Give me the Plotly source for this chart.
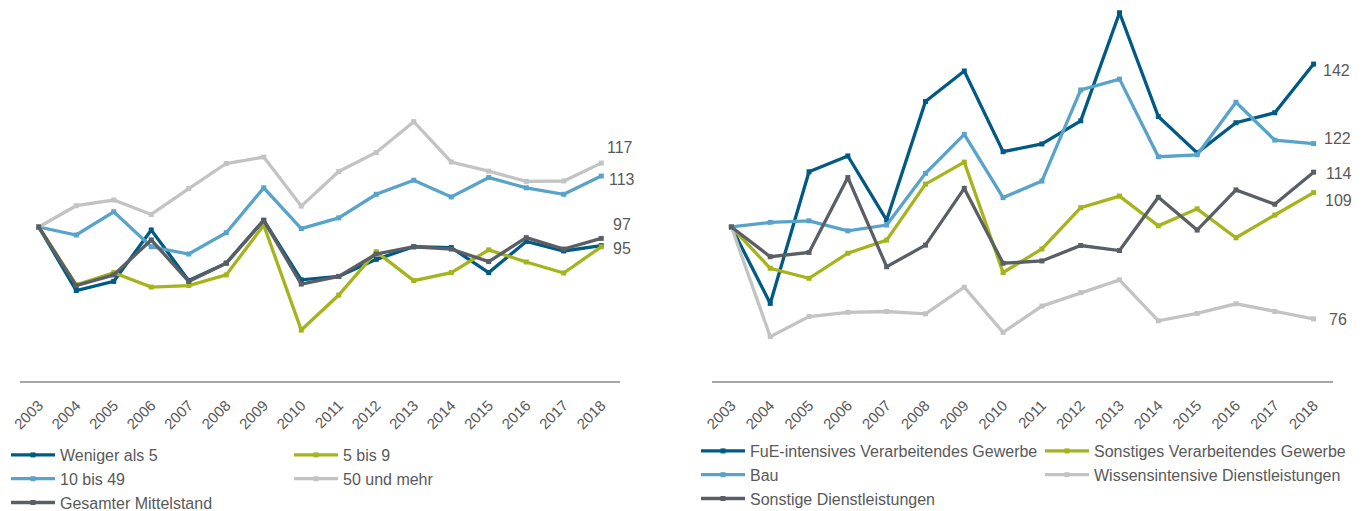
import plotly.graph_objects as go
from plotly.subplots import make_subplots

years = ["2003", "2004", "2005", "2006", "2007", "2008", "2009", "2010",
         "2011", "2012", "2013", "2014", "2015", "2016", "2017", "2018"]

# Linkes Diagramm: nach Beschäftigtengrößenklassen (Index 2003 = 100)
weniger_als_5 = [100, 83.3, 85.7, 99.2, 85.9, 90.5, 101.8, 86.1,
                 87.0, 91.5, 94.8, 94.6, 88.0, 96.2, 93.7, 95.1]
fuenf_bis_9 = [100, 84.8, 88.0, 84.2, 84.6, 87.4, 100.5, 72.9,
               82.1, 93.5, 85.9, 88.0, 94.0, 90.8, 87.9, 94.8]
zehn_bis_49 = [100, 97.9, 104.0, 94.8, 92.9, 98.5, 110.3, 99.6,
               102.4, 108.6, 112.3, 107.9, 113.0, 110.3, 108.6, 113.4]
fuenfzig_und_mehr = [100, 105.6, 107.1, 103.3, 110.1, 116.7, 118.4, 105.5,
                     114.6, 119.6, 127.7, 117.1, 114.7, 112.0, 112.1, 116.8]
gesamter_mittelstand = [100, 84.6, 87.4, 96.6, 85.7, 90.5, 101.7, 85.0,
                        87.0, 92.9, 94.8, 94.2, 90.9, 97.2, 94.2, 97.0]

# Rechtes Diagramm: nach Wirtschaftszweigen
fue_intensiv = [100, 80.2, 114.3, 118.4, 101.8, 132.5, 140.4, 119.5,
                121.5, 127.5, 155.5, 128.6, 119.2, 127.0, 129.6, 142.2]
sonstiges_vg = [100, 89.3, 86.7, 93.2, 96.6, 111.1, 116.8, 88.2,
                94.3, 105.0, 108.0, 100.3, 104.7, 97.2, 103.1, 108.9]
bau = [100, 101.2, 101.6, 99.0, 100.5, 113.9, 124.0, 107.6,
       111.9, 135.5, 138.3, 118.2, 118.7, 132.3, 122.5, 121.6]
wissensintensive_dl = [100, 71.6, 76.8, 77.9, 78.1, 77.5, 84.4, 72.7,
                       79.5, 83.0, 86.3, 75.7, 77.6, 80.1, 78.1, 76.2]
sonstige_dl = [100, 92.3, 93.4, 112.8, 89.7, 95.3, 110.0, 90.6,
               91.2, 95.2, 93.9, 107.7, 99.2, 109.6, 105.9, 114.2]

DARK_BLUE = "#005A84"
GREEN = "#A4B41C"
LIGHT_BLUE = "#58A3C9"
LIGHT_GRAY = "#C2C3C5"
DARK_GRAY = "#5A5F65"
TEXT = "#595959"
FONT = "Liberation Sans, Arial, sans-serif"

W, H = 1371, 511
PLOT_BOTTOM = 381  # Pixel der x-Achse

left_series = [
    ("Weniger als 5", weniger_als_5, DARK_BLUE, "legend"),
    ("5 bis 9", fuenf_bis_9, GREEN, "legend2"),
    ("10 bis 49", zehn_bis_49, LIGHT_BLUE, "legend"),
    ("50 und mehr", fuenfzig_und_mehr, LIGHT_GRAY, "legend2"),
    ("Gesamter Mittelstand", gesamter_mittelstand, DARK_GRAY, "legend"),
]
right_series = [
    ("FuE-intensives Verarbeitendes Gewerbe", fue_intensiv, DARK_BLUE, "legend3"),
    ("Sonstiges Verarbeitendes Gewerbe", sonstiges_vg, GREEN, "legend4"),
    ("Bau", bau, LIGHT_BLUE, "legend3"),
    ("Wissensintensive Dienstleistungen", wissensintensive_dl, LIGHT_GRAY, "legend4"),
    ("Sonstige Dienstleistungen", sonstige_dl, DARK_GRAY, "legend3"),
]

fig = make_subplots(rows=1, cols=2)

for col, series in ((1, left_series), (2, right_series)):
    for name, values, color, legend in series:
        fig.add_trace(
            go.Scatter(
                x=years,
                y=values,
                name=name,
                mode="lines+markers",
                line=dict(color=color, width=3.3),
                marker=dict(symbol="square", size=5, color=color),
                legend=legend,
            ),
            row=1, col=col,
        )

# Endwerte rechts neben den Linien
end_labels = [
    (1, fuenfzig_und_mehr, 19, 16),
    (1, zehn_bis_49, 21, -3),
    (1, gesamter_mittelstand, 21, 14),
    (1, weniger_als_5, 21, -3),
    (2, fue_intensiv, 23, -6),
    (2, bau, 24, 5),
    (2, sonstige_dl, 25, -1),
    (2, sonstiges_vg, 25, -8),
    (2, wissensintensive_dl, 24, -1),
]
for col, values, dx, dy in end_labels:
    fig.add_annotation(
        x=len(years) - 1, y=values[-1],
        xref="x" if col == 1 else "x2", yref="y" if col == 1 else "y2",
        text=f"{values[-1]:.0f}", showarrow=False,
        xshift=dx, yshift=dy,
        font=dict(size=16, color=TEXT, family=FONT),
    )

axis_style = dict(
    type="category",
    showgrid=False, zeroline=False, showline=True, linecolor="#A6A6A6", linewidth=1.5,
    ticks="", tickangle=-45, tickfont=dict(size=15, color=TEXT, family=FONT),
    ticklabelstandoff=8,
    range=[-0.5, 15.5],
)
fig.update_xaxes(**axis_style)
fig.update_xaxes(domain=[20 / W, 620 / W], row=1, col=1)
fig.update_xaxes(domain=[712 / W, 1333 / W], row=1, col=2)
fig.update_yaxes(showgrid=False, zeroline=False, showline=False, showticklabels=False, ticks="")
fig.update_yaxes(range=[59.5, 159.7], row=1, col=1)
fig.update_yaxes(range=[60.1, 158.8], row=1, col=2)

legend_style = dict(
    orientation="v", xanchor="left", yanchor="top",
    font=dict(size=16, color=TEXT, family=FONT),
    bgcolor="rgba(0,0,0,0)", itemwidth=44, tracegroupgap=0,
)
left_legend_y = 1 - 438 / PLOT_BOTTOM
right_legend_y = 1 - 434 / PLOT_BOTTOM

fig.update_layout(
    width=W, height=H,
    margin=dict(l=0, r=0, t=0, b=H - PLOT_BOTTOM, autoexpand=False),
    paper_bgcolor="white", plot_bgcolor="white",
    font=dict(family=FONT, color=TEXT),
    showlegend=True,
    legend=dict(x=6 / W, y=left_legend_y, **legend_style),
    legend2=dict(x=289 / W, y=left_legend_y, **legend_style),
    legend3=dict(x=696 / W, y=right_legend_y, **legend_style),
    legend4=dict(x=1040 / W, y=right_legend_y, **legend_style),
)

fig.write_html(
    "out.html",
    config={"displayModeBar": False},
    post_script="document.body.style.margin = '0px';",
)
